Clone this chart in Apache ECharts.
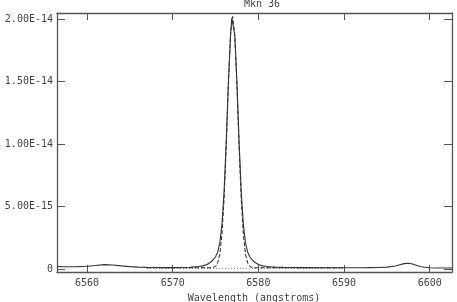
<!DOCTYPE html>
<html>
<head>
<meta charset="utf-8">
<script src="https://cdn.jsdelivr.net/npm/echarts@6/dist/echarts.min.js"></script>
<style>html,body{margin:0;padding:0;background:#fff;}#c{width:457px;height:302px;}</style>
</head>
<body>
<div id="c"></div>
<script>
// Flux values are in units of 1e-15 (erg/s/cm^2/A)
const obsWave = [6556.5,6557,6558,6559,6560,6561,6562,6563,6564,6565,6566,6567,6568,6569,6570,6571,6572,6572.5,6573,6573.5,6574,6574.5,6574.75,6575,6575.25,6575.5,6575.75,6576,6576.25,6576.5,6576.75,6576.9,6577,6577.1,6577.25,6577.5,6577.75,6578,6578.25,6578.5,6578.75,6579,6579.25,6579.5,6580,6580.5,6581,6581.5,6582,6583,6584,6585,6586,6587,6588,6589,6590,6591,6592,6593,6594,6595,6596,6596.5,6597,6597.5,6598,6598.5,6599,6600,6601,6602,6602.6];
const obsFlux = [0.20,0.19,0.18,0.19,0.22,0.28,0.35,0.32,0.25,0.19,0.15,0.13,0.12,0.11,0.11,0.12,0.14,0.17,0.20,0.25,0.36,0.58,0.75,0.98,1.35,2.10,3.55,6.20,10.2,14.9,18.7,20.1,20.2,20.1,18.7,14.9,10.2,6.20,3.55,2.10,1.35,0.98,0.75,0.58,0.36,0.25,0.20,0.17,0.15,0.13,0.12,0.11,0.11,0.10,0.10,0.10,0.10,0.10,0.10,0.11,0.12,0.15,0.24,0.34,0.43,0.46,0.40,0.28,0.18,0.10,0.08,0.08,0.08];

const fitWave = [6567,6574,6574.5,6574.75,6575,6575.25,6575.5,6575.75,6576,6576.25,6576.5,6576.75,6577,6577.25,6577.5,6577.75,6578,6578.25,6578.5,6578.75,6579,6579.25,6579.5,6580,6590];
const fitFlux = [0.10,0.10,0.10,0.13,0.21,0.48,1.18,2.75,5.60,9.80,14.7,18.7,20.2,18.7,14.7,9.80,5.60,2.75,1.18,0.48,0.21,0.13,0.10,0.10,0.10];

const contWave = [6567,6590];
const contFlux = [0.05,0.05];

const xTickValues = [6560,6570,6580,6590,6600];
const yTickValues = [0,5,10,15,20];
const yTickLabels = ['0','5.00E-15','1.00E-14','1.50E-14','2.00E-14'];

const titleText = 'Mkn 36';
const xLabelText = 'Wavelength (angstroms)';

const pair = (xs, ys) => xs.map((x, i) => [x, ys[i]]);
const font = 'DejaVu Sans Mono';
const ink = '#444';
const axisCol = '#555';

const chart = echarts.init(document.getElementById('c'), null, {renderer: 'canvas'});
const xCommon = {
  type: 'value', min: 6556.5, max: 6602.6,
  axisLine: {show: true, onZero: false, lineStyle: {color: axisCol, width: 1.3}},
  axisTick: {show: true, inside: true, length: 7, customValues: xTickValues, lineStyle: {color: axisCol, width: 1}},
  splitLine: {show: false}
};
const yCommon = {
  type: 'value', min: -0.24, max: 20.48,
  axisLine: {show: true, onZero: false, lineStyle: {color: axisCol, width: 1.3}},
  axisTick: {show: true, inside: true, length: 8, customValues: yTickValues, lineStyle: {color: axisCol, width: 1}},
  splitLine: {show: false}
};
chart.setOption({
  animation: false,
  backgroundColor: '#fff',
  title: {text: titleText, left: 257, top: -6, textAlign: 'center',
    textStyle: {fontFamily: font, fontSize: 10, fontWeight: 'normal', color: ink}},
  grid: {left: 57, right: 5, top: 13, bottom: 30, containLabel: false, outerBoundsMode: 'none'},
  graphic: [{type: 'text', x: 254, y: 293,
    style: {text: xLabelText, fontFamily: font, fontSize: 10, fill: ink, textAlign: 'center', textVerticalAlign: 'top'}}],
  xAxis: [
    Object.assign({}, xCommon, {position: 'bottom',
      axisLabel: {show: true, margin: 6, customValues: xTickValues, fontFamily: font, fontSize: 10, color: ink,
        formatter: v => String(v)}}),
    Object.assign({}, xCommon, {position: 'top', axisLabel: {show: false}})
  ],
  yAxis: [
    Object.assign({}, yCommon, {position: 'left',
      axisLabel: {show: true, margin: 4, customValues: yTickValues, fontFamily: font, fontSize: 10, color: ink,
        formatter: v => yTickLabels[yTickValues.indexOf(Math.round(v))]}}),
    Object.assign({}, yCommon, {position: 'right', axisLabel: {show: false}})
  ],
  series: [
    {type: 'line', data: pair(contWave, contFlux), showSymbol: false, symbol: 'none',
      lineStyle: {color: '#555', width: 0.8, type: [1, 2]}},
    {type: 'line', data: pair(fitWave, fitFlux), showSymbol: false, symbol: 'none',
      lineStyle: {color: '#222', width: 1, type: [4, 2]}},
    {type: 'line', data: pair(obsWave, obsFlux), showSymbol: false, symbol: 'none',
      lineStyle: {color: '#333', width: 1.1}}
  ]
});
</script>
</body>
</html>
